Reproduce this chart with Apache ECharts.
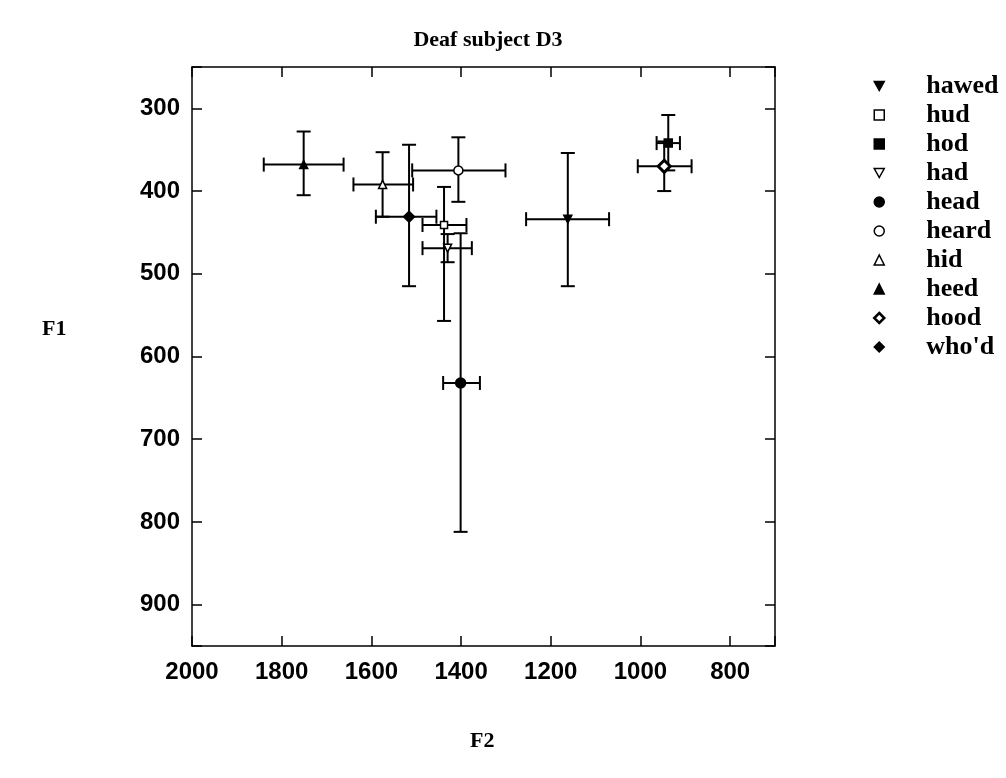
<!DOCTYPE html>
<html><head><meta charset="utf-8">
<script src="https://cdn.jsdelivr.net/npm/echarts@6/dist/echarts.min.js"></script>
<style>html,body{margin:0;padding:0;background:#fff}#c{width:1006px;height:778px}</style>
</head><body><div id="c"></div>
<script>
// ---- data (Hz) ----
const vowels = ['hawed', 'hud', 'hod', 'had', 'head', 'heard', 'hid', 'heed', 'hood', "who'd"];
const f2Mean = [1162, 1438, 938, 1430, 1401, 1406, 1575, 1751, 947, 1516];
const f2Lower = [1070, 1388, 912, 1376, 1358, 1301, 1507, 1662, 886, 1455];
const f2Upper = [1255, 1486, 964, 1486, 1440, 1509, 1640, 1840, 1006, 1590];
const f1Mean = [434, 441, 342, 469, 632, 375, 392, 368, 370, 431];
const f1Lower = [354, 395, 308, 452, 451, 335, 353, 328, 340, 344];
const f1Upper = [515, 557, 375, 486, 812, 413, 431, 405, 400, 515];
const xTickLabels = [800, 1000, 1200, 1400, 1600, 1800, 2000];
const yTickLabels = [300, 400, 500, 600, 700, 800, 900];

// ---- marker styles ----
const downTri = 'path://M0,0 L10,0 L5,9 Z';
const markerStyle = {
  'hawed': {symbol: 'triangle', rotate: 180, icon: downTri, fill: '#000', size: 8},
  'hud':   {symbol: 'rect', rotate: 0, fill: '#fff', size: 7},
  'hod':   {symbol: 'rect', rotate: 0, fill: '#000', size: 8},
  'had':   {symbol: 'triangle', rotate: 180, icon: downTri, fill: '#fff', size: 8},
  'head':  {symbol: 'circle', rotate: 0, fill: '#000', size: 10},
  'heard': {symbol: 'circle', rotate: 0, fill: '#fff', size: 9},
  'hid':   {symbol: 'triangle', rotate: 0, fill: '#fff', size: 8},
  'heed':  {symbol: 'triangle', rotate: 0, fill: '#000', size: 8},
  'hood':  {symbol: 'diamond', rotate: 0, fill: '#fff', size: 12, bw: 3},
  "who'd": {symbol: 'diamond', rotate: 0, fill: '#000', size: 11}
};

const errData = vowels.map((v, i) => [f2Mean[i], f1Mean[i], f2Lower[i], f2Upper[i], f1Lower[i], f1Upper[i]]);

const chart = echarts.init(document.getElementById('c'), null, {renderer: 'canvas'});
const cap = 7;
const lineStyle = {stroke: '#000', lineWidth: 2};

const scatterSeries = vowels.map((v, i) => {
  const m = markerStyle[v];
  return {
    name: v,
    type: 'scatter',
    xAxisIndex: 0, yAxisIndex: 0,
    symbol: m.symbol,
    symbolRotate: m.rotate,
    symbolSize: m.size,
    z: 5,
    itemStyle: {color: m.fill, borderColor: '#000', borderWidth: m.bw || 1.5, opacity: 1},
    data: [[f2Mean[i], f1Mean[i]]]
  };
});

const legendData = vowels.map(v => {
  const m = markerStyle[v];
  return {
    name: v,
    icon: m.icon || m.symbol,
    itemStyle: {color: m.fill, borderColor: '#000', borderWidth: m.bw ? 2.5 : 1.5}
  };
});

const axisFont = {fontFamily: 'Liberation Sans', fontWeight: 'bold', fontSize: 24, color: '#000'};
const commonAxis = {
  axisLine: {show: true, lineStyle: {color: '#000', width: 1.5}},
  axisTick: {show: true, inside: true, length: 10, lineStyle: {color: '#000', width: 1.5}},
  splitLine: {show: false}
};

chart.setOption({
  animation: false,
  backgroundColor: '#fff',
  title: {
    text: 'Deaf subject D3',
    left: 483, top: 24, textAlign: 'center',
    textStyle: {fontFamily: 'Liberation Serif', fontWeight: 'bold', fontSize: 22, color: '#000'}
  },
  graphic: [
    {type: 'text', left: 42, top: 318, style: {text: 'F1', font: 'bold 22px "Liberation Serif"', fill: '#000'}},
    {type: 'text', left: 470, top: 730, style: {text: 'F2', font: 'bold 22px "Liberation Serif"', fill: '#000'}}
  ],
  legend: {
    orient: 'vertical',
    left: 873, top: 73,
    padding: 0,
    itemWidth: 10, itemHeight: 10,
    itemGap: 3,
    selectedMode: false,
    formatter: name => '{a|' + name + '}',
    textStyle: {
      fontFamily: 'Liberation Serif', fontWeight: 'bold', fontSize: 26, lineHeight: 26, color: '#000',
      rich: {a: {fontFamily: 'Liberation Serif', fontWeight: 'bold', fontSize: 26, lineHeight: 26, color: '#000', padding: [0, 0, 0, 37]}}
    },
    data: legendData
  },
  grid: {left: 192, right: 231, top: 67, bottom: 132, containLabel: false},
  xAxis: [
    Object.assign({}, commonAxis, {
      type: 'value', position: 'bottom', inverse: true, min: 700, max: 2000, splitNumber: 7,
      axisLabel: Object.assign({margin: 14, formatter: v => xTickLabels.includes(v) ? String(v) : ''}, axisFont)
    }),
    Object.assign({}, commonAxis, {
      type: 'value', position: 'top', inverse: true, min: 700, max: 2000, splitNumber: 7,
      axisLabel: {show: false}
    })
  ],
  yAxis: [
    Object.assign({}, commonAxis, {
      type: 'value', position: 'left', inverse: true, min: 250, max: 950, splitNumber: 7,
      axisLabel: Object.assign({margin: 12, formatter: v => yTickLabels.includes(v) ? String(v) : ''}, axisFont)
    }),
    Object.assign({}, commonAxis, {
      type: 'value', position: 'right', inverse: true, min: 250, max: 950, splitNumber: 7,
      axisLabel: {show: false}
    })
  ],
  series: [
    {
      type: 'custom',
      name: 'errorbars',
      xAxisIndex: 0, yAxisIndex: 0,
      z: 2,
      renderItem: function (params, api) {
        const y = api.value(1), x = api.value(0);
        const pL = api.coord([api.value(2), y]);
        const pR = api.coord([api.value(3), y]);
        const pT = api.coord([x, api.value(4)]);
        const pB = api.coord([x, api.value(5)]);
        const seg = (x1, y1, x2, y2) => ({type: 'line', shape: {x1, y1, x2, y2}, style: lineStyle});
        return {
          type: 'group',
          children: [
            seg(pL[0], pL[1], pR[0], pR[1]),
            seg(pL[0], pL[1] - cap, pL[0], pL[1] + cap),
            seg(pR[0], pR[1] - cap, pR[0], pR[1] + cap),
            seg(pT[0], pT[1], pB[0], pB[1]),
            seg(pT[0] - cap, pT[1], pT[0] + cap, pT[1]),
            seg(pB[0] - cap, pB[1], pB[0] + cap, pB[1])
          ]
        };
      },
      data: errData
    }
  ].concat(scatterSeries)
});
</script>
</body></html>
